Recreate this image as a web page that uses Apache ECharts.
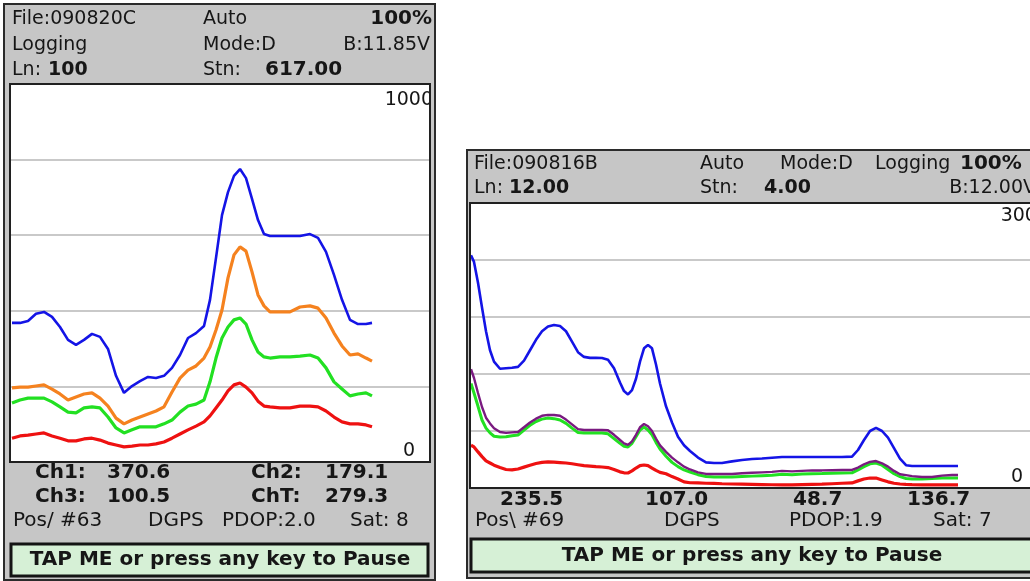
<!DOCTYPE html>
<html><head><meta charset="utf-8">
<script src="https://cdn.jsdelivr.net/npm/echarts@6/dist/echarts.min.js"></script>
<style>html,body{margin:0;padding:0;background:#fff}#c{width:1030px;height:581px}</style>
</head><body><div id="c"></div>
<script>
// ---------- Left screen (File 090820C) ----------
const leftPos = [2,10,18,26,34,42,50,58,66,74,82,90,98,106,114,122,130,138,146,154,162,170,178,186,194,
  200,206,212,218,224,230,236,242,248,254,260,270,280,290,300,308,316,324,332,340,348,356,362];
const leftCh1 = [368,368,373,392,397,384,357,323,310,323,339,331,299,228,183,201,214,225,222,228,249,283,328,341,360,
  429,540,653,714,757,775,751,696,640,603,598,598,598,598,603,593,556,495,429,376,365,365,368];
const leftChT = [196,198,198,201,204,193,180,164,172,180,183,169,148,116,101,111,119,127,135,146,185,222,243,254,275,
  304,349,402,487,548,569,558,503,442,413,397,397,397,410,413,407,381,341,307,283,286,275,267];
const leftCh2 = [156,164,169,169,169,159,146,132,130,143,146,143,119,90,77,85,93,93,93,101,111,132,148,153,164,
  212,275,328,357,376,381,365,323,291,278,275,278,278,280,283,275,249,212,193,175,180,183,175];
const leftCh3 = [63,69,71,74,77,69,63,56,56,61,63,58,50,45,40,42,45,45,48,53,63,74,85,95,106,
  122,143,164,188,204,209,198,183,161,148,146,143,143,148,148,146,135,119,106,101,101,98,93];
const leftScale = [0, 1000, 200];   // min, max, grid step

// ---------- Right screen (File 090816B) ----------
const rightPos = [1,4,8,12,16,20,24,
  30,36,42,48,54,60,66,72,78,84,90,96,102,108,114,120,126,132,138,144,150,
  154,158,162,166,170,174,178,182,186,190,
  196,202,208,214,220,
  228,236,244,252,
  262,272,282,292,302,312,322,332,342,352,362,372,382,
  388,394,400,406,412,418,424,430,436,442,
  452,462,472,482,488];
const rightA = [2450,2380,2160,1900,1650,1450,1330,
  1255,1260,1265,1275,1340,1450,1560,1650,1700,1716,1705,1650,1540,1430,1380,1370,1370,1368,1350,1260,1110,
  1020,985,1030,1150,1330,1470,1505,1470,1300,1100,
  860,690,540,450,390,
  320,270,263,263,
  280,295,305,310,318,326,326,326,326,326,326,326,330,
  400,505,600,632,600,530,420,310,240,232,
  232,232,232,232,232];
const rightB = [1250,1158,1000,853,740,680,630,
  590,580,585,590,640,690,730,760,770,768,760,720,670,620,610,611,611,611,608,560,505,
  470,453,490,560,640,674,650,600,520,450,
  380,320,270,225,195,
  165,148,147,147,
  147,155,160,165,170,180,175,180,185,185,187,189,190,
  215,250,275,284,260,225,180,145,135,125,
  116,116,130,137,137];
const rightC = [1100,1000,860,716,630,580,545,
  537,540,550,558,610,660,700,725,737,730,716,680,630,585,579,579,579,579,570,520,470,
  440,432,470,540,610,642,610,560,480,410,
  335,270,225,190,168,
  140,122,116,115,
  115,120,125,130,135,145,140,148,150,152,155,158,160,
  190,225,255,263,240,195,150,120,100,95,
  95,100,105,105,105];
const rightD = [450,432,380,330,285,263,240,
  215,195,190,200,220,240,258,270,274,272,268,263,255,245,235,230,225,221,215,195,170,
  160,158,180,210,235,242,235,210,185,165,
  150,120,95,65,55,
  53,50,48,45,
  42,40,38,36,34,32,32,35,38,40,45,50,53,
  75,95,105,105,85,65,50,42,38,35,
  32,32,32,32,32];
const rightScale = [0, 3000, 600];

const FONT = '"DejaVu Sans", Verdana, sans-serif';
const INK = '#161616';
const PANEL = '#c6c6c6';

function pairs(xs, ys) { return xs.map((x, i) => [x, ys[i]]); }
function txt(x, y, s, o) {
  o = o || {};
  return { type: 'text', z: 100, silent: true,
    style: { x: x, y: y, text: s, fill: INK,
      font: (o.b ? 'bold ' : '') + (o.size || 19) + 'px ' + FONT,
      align: o.align || 'left', verticalAlign: 'middle' } };
}
function rect(x, y, w, h, fill, stroke, lw, z) {
  return { type: 'rect', z: z, silent: true, shape: { x: x, y: y, width: w, height: h },
    style: { fill: fill, stroke: stroke || null, lineWidth: lw || 0 } };
}
function line(name, color, xs, ys, width, gi) {
  return { name: name, type: 'line', xAxisIndex: gi, yAxisIndex: gi, data: pairs(xs, ys),
    showSymbol: false, symbol: 'none', animation: false, clip: true,
    lineStyle: { color: color, width: width } };
}
function yAx(gi, sc, margin, topPad, zeroRightPad) {
  return { type: 'value', gridIndex: gi, position: 'right', min: sc[0], max: sc[1], interval: sc[2],
    axisLine: { show: false }, axisTick: { show: false },
    splitLine: { show: true, lineStyle: { color: '#c9c9c9', width: 2 } },
    axisLabel: { inside: true, margin: margin, color: INK, fontFamily: FONT, fontSize: 19,
      formatter: function (v) { return v === sc[1] ? '{t|' + v + '}' : (v === sc[0] ? '{z|' + v + '}' : ''); },
      rich: { t: { padding: [topPad, 0, 0, 0], fontSize: 19, fontFamily: FONT, color: INK },
              z: { padding: [0, zeroRightPad, 22, 0], fontSize: 19, fontFamily: FONT, color: INK } } } };
}

const graphics = [
  // left panel
  rect(4, 4, 431, 576, PANEL, '#2b2b2b', 2, -10),
  rect(10, 84, 420, 378, '#ffffff', null, 0, -5),
  rect(430, 80, 4, 390, PANEL, null, 0, 50),
  rect(10, 84, 420, 378, null, '#202020', 2, 60),
  txt(12, 19, 'File:090820C'), txt(203, 19, 'Auto'), txt(432, 19, '100%', { b: 1, size: 20, align: 'right' }),
  txt(12, 45, 'Logging'), txt(203, 45, 'Mode:D'), txt(430, 45, 'B:11.85V', { align: 'right' }),
  txt(12, 70, 'Ln:'), txt(48, 70, '100', { b: 1 }), txt(203, 70, 'Stn:'), txt(265, 70, '617.00', { b: 1, size: 20 }),
  txt(35, 473, 'Ch1:', { b: 1, size: 20 }), txt(107, 473, '370.6', { b: 1, size: 20 }),
  txt(251, 473, 'Ch2:', { b: 1, size: 20 }), txt(325, 473, '179.1', { b: 1, size: 20 }),
  txt(35, 497, 'Ch3:', { b: 1, size: 20 }), txt(107, 497, '100.5', { b: 1, size: 20 }),
  txt(251, 497, 'ChT:', { b: 1, size: 20 }), txt(325, 497, '279.3', { b: 1, size: 20 }),
  txt(13, 521, 'Pos/ #63', { size: 20 }), txt(148, 521, 'DGPS', { size: 20 }),
  txt(222, 521, 'PDOP:2.0', { size: 20 }), txt(350, 521, 'Sat: 8', { size: 20 }),
  rect(11, 544, 417, 32, '#d6f0d6', '#141414', 3, 40),
  txt(220, 560, 'TAP ME or press any key to Pause', { b: 1, size: 20, align: 'center' }),
  // right panel
  rect(467, 150, 600, 428, PANEL, '#2b2b2b', 2, -10),
  rect(470, 203, 600, 285, '#ffffff', null, 0, -5),
  rect(470, 203, 600, 285, null, '#202020', 2, 60),
  txt(474, 164, 'File:090816B'), txt(700, 164, 'Auto'), txt(780, 164, 'Mode:D'),
  txt(875, 164, 'Logging'), txt(960, 164, '100%', { b: 1, size: 20 }),
  txt(474, 188, 'Ln:'), txt(509, 188, '12.00', { b: 1 }), txt(700, 188, 'Stn:'), txt(764, 188, '4.00', { b: 1 }),
  txt(1036, 188, 'B:12.00V', { align: 'right' }),
  txt(500, 500, '235.5', { b: 1, size: 20 }), txt(645, 500, '107.0', { b: 1, size: 20 }),
  txt(793, 500, '48.7', { b: 1, size: 20 }), txt(907, 500, '136.7', { b: 1, size: 20 }),
  txt(475, 521, 'Pos\\ #69', { size: 20 }), txt(664, 521, 'DGPS', { size: 20 }),
  txt(789, 521, 'PDOP:1.9', { size: 20 }), txt(933, 521, 'Sat: 7', { size: 20 }),
  rect(471, 539, 600, 33, '#d6f0d6', '#141414', 3, 40),
  txt(752, 556, 'TAP ME or press any key to Pause', { b: 1, size: 20, align: 'center' })
];

const chart = echarts.init(document.getElementById('c'), null, { renderer: 'canvas' });
chart.setOption({
  animation: false,
  backgroundColor: '#ffffff',
  grid: [
    { left: 10, top: 84, width: 420, height: 378, show: false, containLabel: false, outerBoundsMode: 'none' },
    { left: 470, top: 203, width: 564, height: 285, show: false, containLabel: false, outerBoundsMode: 'none' }
  ],
  xAxis: [
    { type: 'value', gridIndex: 0, min: 0, max: 420, show: false },
    { type: 'value', gridIndex: 1, min: 0, max: 564, show: false }
  ],
  yAxis: [ yAx(0, leftScale, -3, 32, 18), yAx(1, rightScale, -15, 26, 26) ],
  graphic: graphics,
  series: [
    line('Ch3', '#ee1111', leftPos, leftCh3, 3.2, 0),
    line('Ch2', '#22e022', leftPos, leftCh2, 3.2, 0),
    line('ChT', '#f5821f', leftPos, leftChT, 3.2, 0),
    line('Ch1', '#1414e6', leftPos, leftCh1, 2.6, 0),
    line('D', '#ee1111', rightPos, rightD, 3.2, 1),
    line('C', '#22e022', rightPos, rightC, 3, 1),
    line('B', '#7a1a80', rightPos, rightB, 2.4, 1),
    line('A', '#1414e6', rightPos, rightA, 2.6, 1)
  ]
});
</script>
</body></html>
